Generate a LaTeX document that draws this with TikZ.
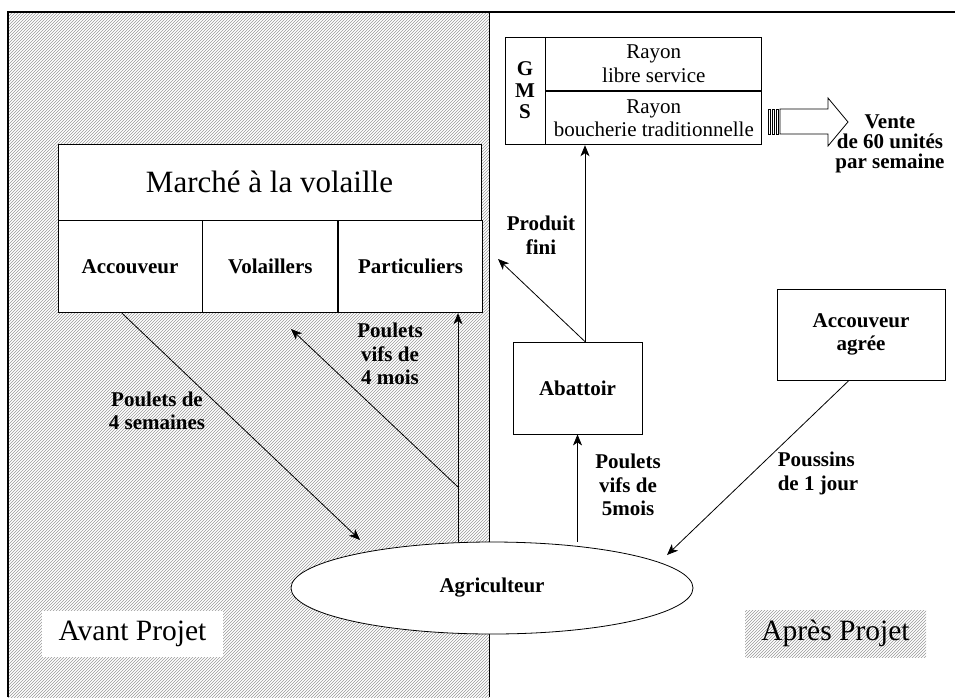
\documentclass[tikz,border=0pt]{standalone}
\usepackage{fontspec}
\setmainfont{Liberation Serif}
\usetikzlibrary{arrows.meta,shapes.geometric,patterns}
\begin{document}
\begin{tikzpicture}[x=1pt, y=-1pt, >={Stealth[length=11pt,width=9pt,inset=3pt]},
    box/.style={draw, fill=white, line width=0.8pt, inner sep=0pt, align=center},
    lbl/.style={font=\bfseries\fontsize{21}{23.5}\selectfont, align=center, inner sep=0pt},
    txt/.style={font=\fontsize{21}{23.5}\selectfont},
    hatch/.style={pattern=north east lines, pattern color=black!40},
    fl/.style={->, line width=0.8pt}]
        \useasboundingbox (0,0) rectangle (955,697);
        % fond : avant projet hachuré
        \fill[hatch] (8,12) rectangle (489,697);
        \draw[line width=0.8pt] (489,12) -- (489,697);
        \draw[line width=1.6pt] (8,697) -- (8,12) -- (955,12);
        % marché à la volaille
        \node[box, minimum width=423, minimum height=76, font=\fontsize{31}{36}\selectfont] (marche) at (269.5,182) {Marché à la volaille};
        \node[box, lbl, minimum width=144, minimum height=92, anchor=north west] (accouveur) at (marche.south west) {Accouveur};
        \node[box, lbl, minimum width=135, minimum height=92, anchor=north west] (volaillers) at (accouveur.north east) {Volaillers};
        \node[box, lbl, minimum width=144, minimum height=92, anchor=north west] (particuliers) at (volaillers.north east) {Particuliers};
        % GMS
        \node[box, lbl, minimum width=40, minimum height=107, font=\bfseries\fontsize{21}{21.5}\selectfont] (gms) at (525,90.5) {G\\M\\S};
        \node[box, txt, minimum width=216, minimum height=53.5, anchor=north west] (rayon1) at (gms.north east) {Rayon\\libre service};
        \node[box, txt, minimum width=216, minimum height=53.5, anchor=north west] (rayon2) at (rayon1.south west) {Rayon\\boucherie traditionnelle};
        % flèche rayée vers la vente
        \foreach \x in {768,772,776}
            \draw[line width=0.7pt] (\x,109) rectangle ++(2.5,25);
        \draw[line width=0.8pt, fill=white] (780,109) -- (828,109) -- (828,98) -- (848,122) -- (828,146) -- (828,134) -- (780,134) -- cycle;
        \node[lbl, font=\bfseries\fontsize{21}{20}\selectfont] (vente) at (890,144) {Vente\\de 60 unités\\par semaine};
        % acteurs
        \node[box, lbl, minimum width=129, minimum height=92] (abattoir) at (577.5,388) {Abattoir};
        \node[box, lbl, minimum width=168, minimum height=91] (agree) at (861,334.5) {Accouveur\\agrée};
        \node[ellipse, box, lbl, minimum width=402, minimum height=92] (agri) at (492,588) {Agriculteur};
        \node[fill=white, minimum width=181, minimum height=46, font=\fontsize{29.5}{34}\selectfont] (avant) at (132.5,634) {Avant Projet};
        \node[hatch, minimum width=181, minimum height=47, font=\fontsize{29.5}{34}\selectfont] (apres) at (835.5,633.5) {Après Projet};
        % flux
        \coordinate (v1) at (458,542);
        \coordinate (v2) at (458,487);
        \coordinate (vifs) at (291,329);
        \coordinate (semaines) at (360,540);
        \coordinate (fini) at (498,259);
        \coordinate (poussins) at (667,555);
        \draw[fl] (v1) -- (v1 |- particuliers.south);
        \draw[fl] (v2) -- (vifs);
        \draw[fl] ([xshift=-8pt]accouveur.south) -- (semaines);
        \draw[fl] (agri.north -| abattoir.south) -- (abattoir.south);
        \draw[fl] ([xshift=7.5pt]abattoir.north) -- ([xshift=7.5pt]abattoir.north |- rayon2.south);
        \draw[fl] ([xshift=7.5pt]abattoir.north) -- (fini);
        \draw[fl] ([xshift=-12pt]agree.south) -- (poussins);
        % étiquettes
        \node[lbl] (l1) at (157,411) {Poulets de\\ 4 semaines};
        \node[lbl] (l2) at (390,354) {Poulets\\vifs de\\4 mois};
        \node[lbl] (l3) at (541,235) {Produit\\fini};
        \node[lbl] (l4) at (628,485) {Poulets\\vifs de\\5mois};
        \node[lbl, align=left] (l5) at (818,473.5) {Poussins\\de 1 jour};
\end{tikzpicture}
\end{document}
